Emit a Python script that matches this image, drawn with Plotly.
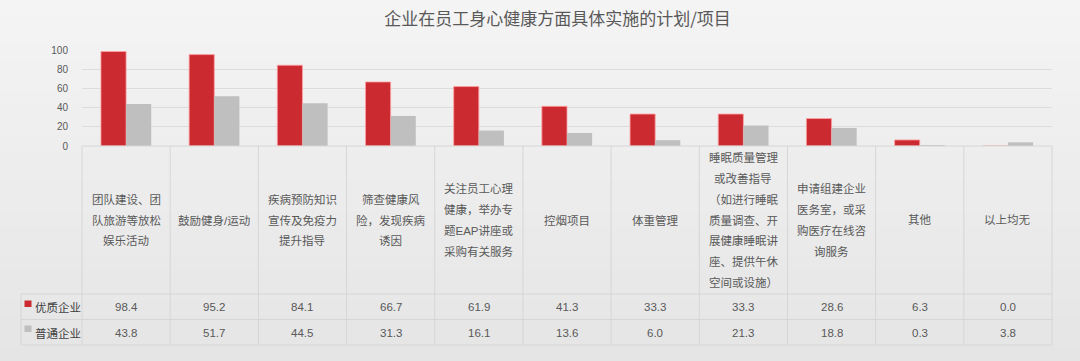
import plotly.graph_objects as go

title = "企业在员工身心健康方面具体实施的计划/项目"
series_names = ["优质企业", "普通企业"]
cat_lines = [
    ["团队建设、团", "队旅游等放松", "娱乐活动"],
    ["鼓励健身/运动"],
    ["疾病预防知识", "宣传及免疫力", "提升指导"],
    ["筛查健康风", "险，发现疾病", "诱因"],
    ["关注员工心理", "健康，举办专", "题EAP讲座或", "采购有关服务"],
    ["控烟项目"],
    ["体重管理"],
    ["睡眠质量管理", "或改善指导", "（如进行睡眠", "质量调查、开", "展健康睡眠讲", "座、提供午休", "空间或设施）"],
    ["申请组建企业", "医务室，或采", "购医疗在线咨", "询服务"],
    ["其他"],
    ["以上均无"],
]
categories = ["".join(l) for l in cat_lines]
quality = [98.4, 95.2, 84.1, 66.7, 61.9, 41.3, 33.3, 33.3, 28.6, 6.3, 0.0]
normal = [43.8, 51.7, 44.5, 31.3, 16.1, 13.6, 6.0, 21.3, 18.8, 0.3, 3.8]
y_ticks = [0, 20, 40, 60, 80, 100]

RED = "#CC2A31"
GREY = "#BFBFBF"
LINE = "#D6D6D6"
TXT = "#595959"
FONT = "Liberation Sans, Noto Sans CJK SC, sans-serif"

W, H = 1080, 361
L, R, T, B = 82, 28, 50, 215
PH = H - T - B  # 96
PW = W - L - R  # 970
y0px = H - B  # 146


def yp(px):
    return (y0px - px) / PH


def xp(px):
    return (px - L) / PW


fig = go.Figure()
fig.add_trace(go.Bar(x=categories, y=quality, name=series_names[0],
                     marker=dict(color=RED, line=dict(color="rgba(255,160,160,0.8)", width=1))))
fig.add_trace(go.Bar(x=categories, y=normal, name=series_names[1],
                     marker=dict(color=GREY, line=dict(width=0))))

shapes = []
# background gradient
n = 24
top_c, bot_c = (244, 244, 244), (229, 229, 229)
for i in range(n):
    f = i / (n - 1)
    c = tuple(round(top_c[k] + (bot_c[k] - top_c[k]) * f) for k in range(3))
    shapes.append(dict(type="rect", xref="paper", yref="paper", layer="below",
                       x0=xp(0), x1=xp(W), y0=yp(H * (i + 1) / n + 1), y1=yp(H * i / n),
                       line=dict(width=0), fillcolor="rgb(%d,%d,%d)" % c))

line_style = dict(color=LINE, width=1)
# table horizontal lines
shapes.append(dict(type="line", xref="paper", yref="paper", x0=0, x1=1, y0=0, y1=0, line=line_style))
for ypx in [294, 319.5, 345]:
    shapes.append(dict(type="line", xref="paper", yref="paper", x0=xp(21), x1=1,
                       y0=yp(ypx), y1=yp(ypx), line=line_style))
# vertical lines
nc = len(categories)
for k in range(nc + 1):
    shapes.append(dict(type="line", xref="paper", yref="paper", x0=k / nc, x1=k / nc,
                       y0=0, y1=yp(345), line=line_style))
shapes.append(dict(type="line", xref="paper", yref="paper", x0=xp(21), x1=xp(21),
                   y0=yp(294), y1=yp(345), line=line_style))
# legend keys
shapes.append(dict(type="rect", xref="paper", yref="paper", x0=xp(24.5), x1=xp(31.5),
                   y0=yp(307), y1=yp(300.5), line=dict(width=0), fillcolor=RED))
shapes.append(dict(type="rect", xref="paper", yref="paper", x0=xp(24.5), x1=xp(31.5),
                   y0=yp(332), y1=yp(325.5), line=dict(width=0), fillcolor=GREY))

ann = []
spacing = 20.8
for cat, lines in zip(categories, cat_lines):
    nl = len(lines)
    for i, t in enumerate(lines):
        ypx = 220 + (i - (nl - 1) / 2) * spacing
        ann.append(dict(x=cat, xref="x", y=yp(ypx), yref="paper", text=t, showarrow=False,
                        xanchor="center", yanchor="middle",
                        font=dict(family=FONT, size=11.5, color=TXT)))

for cat, v1, v2 in zip(categories, quality, normal):
    ann.append(dict(x=cat, xref="x", y=yp(306.7), yref="paper", text=f"{v1:.1f}", showarrow=False,
                    xanchor="center", yanchor="middle", font=dict(family=FONT, size=11.5, color=TXT)))
    ann.append(dict(x=cat, xref="x", y=yp(332.7), yref="paper", text=f"{v2:.1f}", showarrow=False,
                    xanchor="center", yanchor="middle", font=dict(family=FONT, size=11.5, color=TXT)))

for nm, ypx in zip(series_names, [307.5, 333.5]):
    ann.append(dict(x=xp(32.5), xref="paper", y=yp(ypx), yref="paper", text=nm, showarrow=False,
                    xanchor="left", yanchor="middle", font=dict(family=FONT, size=11.5, color="#404040")))

fig.update_layout(
    width=W, height=H,
    margin=dict(l=L, r=R, t=T, b=B, pad=0),
    paper_bgcolor="#EDEDED", plot_bgcolor="rgba(0,0,0,0)",
    title=dict(text=title, x=557.5 / W, xref="container", xanchor="center",
               y=1 - 19 / H, yanchor="middle", font=dict(family="Noto Sans CJK SC", size=17, color=TXT)),
    barmode="group", bargap=0.43, bargroupgap=0,
    showlegend=False,
    shapes=shapes, annotations=ann,
    xaxis=dict(showticklabels=False, showgrid=False, zeroline=False, showline=False, ticks=""),
    yaxis=dict(range=[0, 100], tickvals=y_ticks, showgrid=True, gridcolor="#DCDCDC", gridwidth=1,
               zeroline=False, showline=False, ticks="", ticklabelstandoff=13,
               tickfont=dict(family=FONT, size=10, color=TXT)),
)
fig.write_html("out.html", config={"displayModeBar": False},
               post_script="document.body.style.margin='0';document.body.style.overflow='hidden';")
